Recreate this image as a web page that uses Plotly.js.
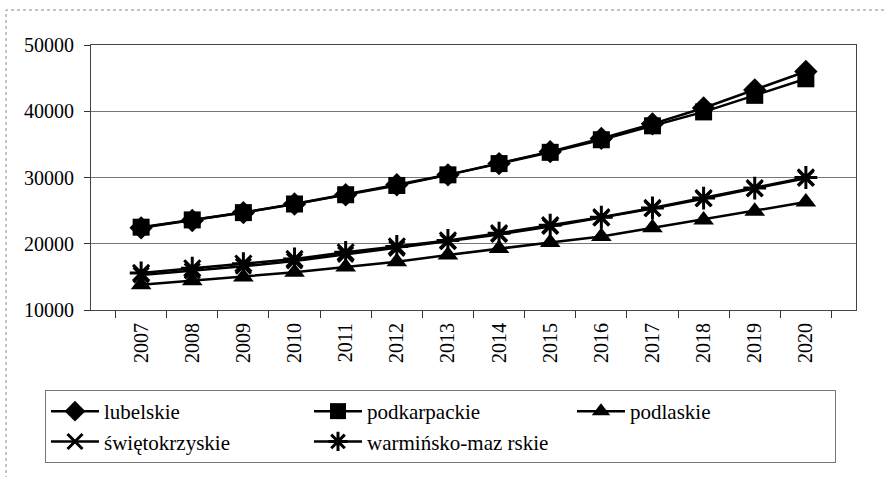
<!DOCTYPE html>
<html>
<head>
<meta charset="utf-8">
<script src="https://cdn.plot.ly/plotly-3.0.1.min.js"></script>
<style>html,body{margin:0;padding:0;background:#fff;}#chart{width:886px;height:477px;}</style>
</head>
<body>
<div id="chart"></div>
<script>
const years = ['2007','2008','2009','2010','2011','2012','2013','2014','2015','2016','2017','2018','2019','2020'];
const lubelskie = [22400, 23500, 24700, 26000, 27400, 28900, 30400, 32100, 33900, 35900, 38100, 40500, 43200, 46000];
const podkarpackie = [22500, 23600, 24700, 26000, 27400, 28800, 30400, 32100, 33800, 35700, 37800, 39900, 42400, 44900];
const podlaskie = [13800, 14400, 15000, 15700, 16500, 17300, 18300, 19300, 20200, 21100, 22400, 23600, 24900, 26300];
const swietokrzyskie = [15300, 15900, 16600, 17400, 18400, 19300, 20300, 21400, 22600, 23900, 25300, 26800, 28300, 29900];
const warminsko = [15600, 16300, 17000, 17700, 18700, 19600, 20500, 21600, 22800, 24000, 25400, 26900, 28400, 30000];
const names = ['lubelskie', 'podkarpackie', 'podlaskie', 'świętokrzyskie', 'warmińsko-maz rskie'];

const series = [lubelskie, podkarpackie, podlaskie, swietokrzyskie, warminsko];
const symbols = ['diamond', 'square', 'triangle-up', 'x-thin-open', 'asterisk-open'];
const sizes = [18, 17, 18, 15, 19];

const FONT = 'Liberation Serif, Times New Roman, serif';
const traces = series.map((s, i) => ({
  x: years, y: s, name: names[i], type: 'scatter', mode: 'lines+markers',
  line: {color: '#000', width: 2.5},
  marker: {symbol: symbols[i], size: sizes[i], color: '#000', line: {color: '#000', width: (i >= 3 ? 3 : 0)}}
}));

const L = 91, R = 30, T = 45, B = 167;
const W = 886 - L - R, H = 477 - T - B;
const layout = {
  width: 886, height: 477,
  margin: {l: L, r: R, t: T, b: B, pad: 0, autoexpand: false},
  paper_bgcolor: '#fff', plot_bgcolor: '#fff',
  font: {family: FONT, color: '#000', size: 20},
  showlegend: true,
  xaxis: {
    type: 'category', tickson: 'boundaries', showgrid: false,
    ticks: 'outside', ticklen: 7, tickcolor: '#333', ticklabelstandoff: 4,
    tickangle: -90, tickfont: {family: FONT, size: 20, color: '#000'},
    showline: true, linecolor: '#444', linewidth: 1, mirror: true,
    zeroline: false, fixedrange: true, automargin: false
  },
  yaxis: {
    range: [10000, 50000], dtick: 10000, tickformat: 'd',
    ticks: 'outside', ticklen: 6, tickcolor: '#333', ticklabelstandoff: 6,
    showgrid: true, gridcolor: '#777', gridwidth: 1,
    showline: true, linecolor: '#444', linewidth: 1, mirror: true,
    zeroline: false, tickfont: {family: FONT, size: 20, color: '#000'}, fixedrange: true, automargin: false
  },
  legend: {
    orientation: 'h', x: (45 - L) / W, y: (310 - 390) / H, xanchor: 'left', yanchor: 'top',
    bordercolor: '#777', borderwidth: 1, bgcolor: '#fff',
    font: {family: FONT, size: 21, color: '#000'}, entrywidth: 200, entrywidthmode: 'pixels', itemwidth: 48,
    traceorder: 'normal'
  },
  shapes: [{
    type: 'rect', xref: 'paper', yref: 'paper',
    x0: (6 - L) / W, x1: (895 - L) / W, y0: (310 - 490) / H, y1: (310 - 10) / H,
    line: {color: '#888', width: 1, dash: 'dot'}
  }]
};
Plotly.newPlot('chart', traces, layout, {displayModeBar: false, staticPlot: true});
</script>
</body>
</html>
